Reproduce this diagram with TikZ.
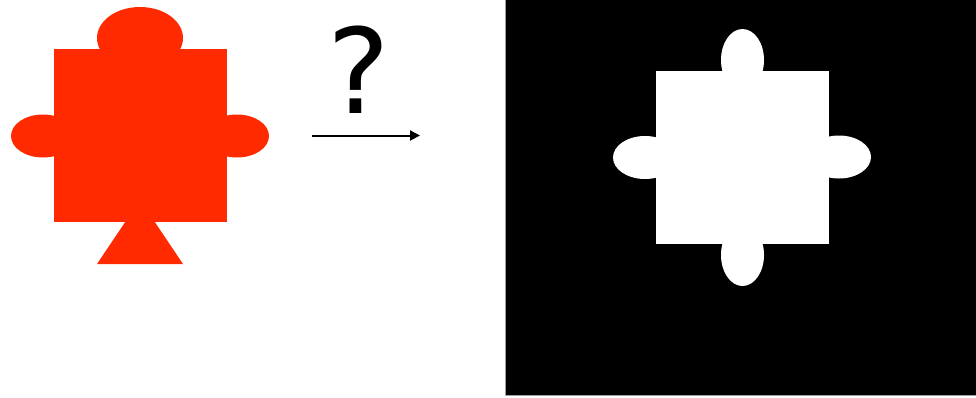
\documentclass[tikz,border=0pt]{standalone}
\usepackage{fontspec}
\setsansfont{DejaVu Sans}
\usetikzlibrary{arrows.meta}
\definecolor{piecered}{HTML}{FF2A00}
\definecolor{frameedge}{HTML}{A0A0A0}

\begin{document}
\begin{tikzpicture}[x=1pt, y=-1pt]
          \useasboundingbox (0,0) rectangle (976,397);
          % Pieza roja
          \fill[piecered] (140,38) ellipse [x radius=43, y radius=31];
          \fill[piecered] (43,136) ellipse [x radius=32, y radius=21.5];
          \fill[piecered] (237,136) ellipse [x radius=32, y radius=21.5];
          \fill[piecered] (140,200) -- (183,264) -- (97,264) -- cycle;
          \fill[piecered] (54,49) rectangle (227,222);
          % Flecha con pregunta
          \coordinate (arrowstart) at (312,135.5);
          \coordinate (arrowend) at (420,135.5);
          \draw[line width=2pt, -{Triangle[length=10pt, width=10pt]}] (arrowstart) -- (arrowend);
          \node[font=\fontsize{118}{120}\selectfont\sffamily, anchor=base, inner sep=0pt] (question) at (359,113) {?};
          % Mascara en blanco y negro
          \fill[black] (505,0) rectangle (976,395);
          \draw[frameedge, line width=0.8pt] (505,0) -- (505,395) -- (976,395);
          \fill[white] (742.5,60) ellipse [x radius=21.5, y radius=31];
          \fill[white] (742.5,255) ellipse [x radius=21.5, y radius=31];
          \fill[white] (645,157.5) ellipse [x radius=32, y radius=21.5];
          \fill[white] (839,157) ellipse [x radius=32, y radius=21.5];
          \fill[white] (656,71) rectangle (829,244);
        \end{tikzpicture}
\end{document}
